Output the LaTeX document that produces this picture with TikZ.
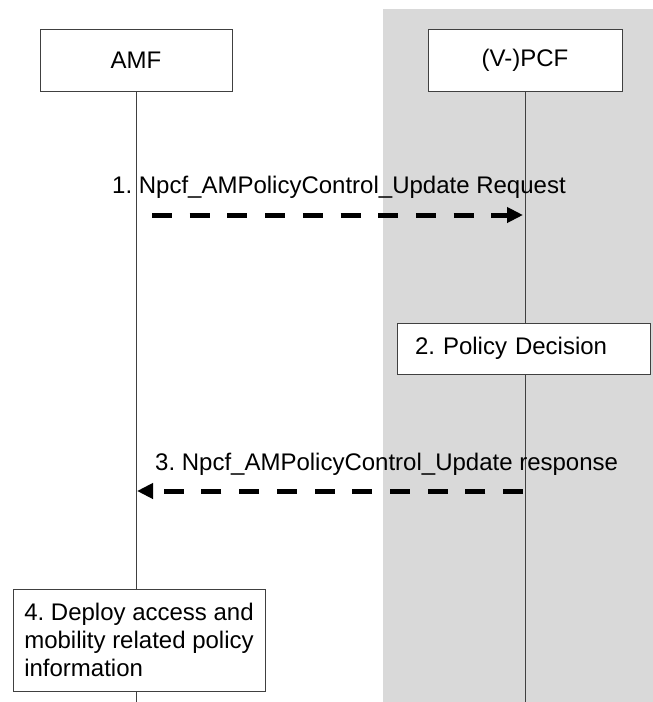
\documentclass[tikz,border=0pt]{standalone}
\usepackage{fontspec}
\setmainfont{Liberation Sans}
\usetikzlibrary{arrows.meta}
\tikzset{>=latex}
\colorlet{vzone}{black!15}
\colorlet{edge}{black!75}

\begin{document}
\frenchspacing
\begin{tikzpicture}[x=1pt,y=-1pt,
    font=\fontsize{24}{28}\selectfont,
    box/.style={draw=edge,fill=white,line width=1pt,inner sep=0pt},
    life/.style={draw=edge,line width=1pt},
    msg/.style={line width=5pt,dash pattern=on 20pt off 17.7pt,
                -{Triangle[length=16pt,width=15pt]}}]
  \useasboundingbox (0,0) rectangle (653,702);
  \def\xa{136}
  \def\xb{525}
  
  % VISITED SIDE
  \fill[vzone] (383,9) rectangle (653,702);
  
  % ENTITIES
  \node[box,minimum width=192,minimum height=62] (amf) at (\xa,60) {AMF};
  \node[box,minimum width=194,minimum height=62] (pcf) at (\xb,60) {(V-)PCF};
  \node[box,minimum height=51,text width=217,inner xsep=18,align=left]
    (decide) at (523.5,348.5) {2. Policy Decision};
  \node[box,minimum width=252,minimum height=102,align=left]
    (deploy) at (139,640) {4. Deploy access and\\mobility related policy\\information};
  \coordinate (amfend) at (\xa,702);
  \coordinate (pcfend) at (\xb,702);
  
  % LIFELINES
  \draw[life] (amf.south) -- (amf.south |- deploy.north);
  \draw[life] (amf.south |- deploy.south) -- (amfend);
  \draw[life] (pcf.south) -- (pcf.south |- decide.north);
  \draw[life] (pcf.south |- decide.south) -- (pcfend);
  
  % MESSAGES
  \coordinate (req0) at (152,215);
  \coordinate (req1) at (523,215);
  \coordinate (rsp0) at (523,491);
  \coordinate (rsp1) at (137,491);
  \draw[msg] (req0) -- (req1);
  \draw[msg] (rsp0) -- (rsp1);
  \node[anchor=base west,inner sep=0] (reqlbl) at (112,193)
    {1. Npcf\_AMPolicyControl\_Update Request};
  \node[anchor=base west,inner sep=0] (rsplbl) at (155,470)
    {3. Npcf\_AMPolicyControl\_Update response};
  
\end{tikzpicture}
\end{document}
